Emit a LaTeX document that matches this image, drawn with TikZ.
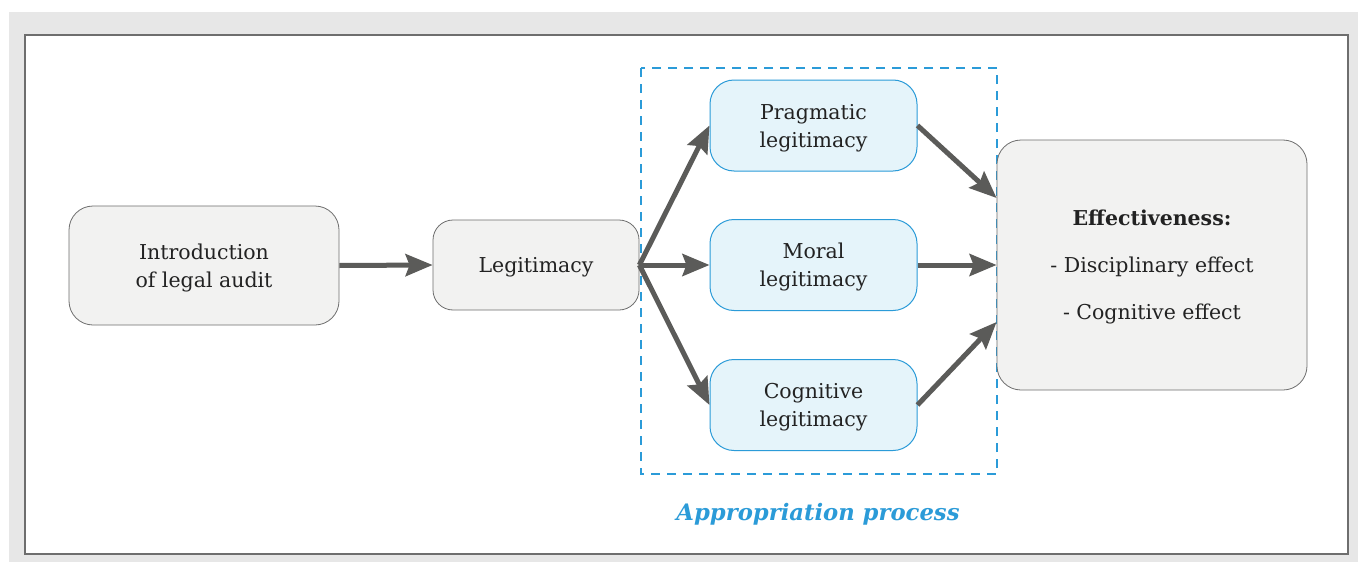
\documentclass[tikz,border=0pt]{standalone}
\usepackage{fontspec}
\setmainfont{DejaVu Serif}
\usetikzlibrary{arrows.meta}
\definecolor{boxgray}{HTML}{F2F2F1}
\definecolor{edgegray}{HTML}{6E6E6E}
\definecolor{arrowgray}{HTML}{5B5B59}
\definecolor{lightblue}{HTML}{E5F4FA}
\definecolor{procblue}{HTML}{2B9BD8}
\definecolor{framegray}{HTML}{E7E7E7}
\definecolor{textdark}{HTML}{222222}
\begin{document}
\begin{tikzpicture}[x=1pt,y=-1pt]
	\tikzstyle{every node}+=[inner sep=0pt, text=textdark, align=center, text depth=0pt, font=\fontsize{20.5}{28}\selectfont]
	\tikzstyle{graybox}=[draw=edgegray, fill=boxgray, rounded corners=24pt, line width=0.8pt]
	\tikzstyle{bluebox}=[draw=procblue, fill=lightblue, rounded corners=24pt, line width=1pt, minimum width=207pt, minimum height=91pt]
	\tikzstyle{flow}=[draw=arrowgray, line width=5pt, -{Stealth[length=27pt,width=22pt,inset=4pt]}]
	\useasboundingbox (0,0) rectangle (1358,562);
	\fill [framegray] (9,12) rectangle (1358,562);
	\draw [edgegray, fill=white, line width=1.5pt] (25,35) rectangle (1348,554);
	\draw [procblue, line width=2pt, dash pattern=on 9pt off 7pt] (641,68) rectangle (997,474);
	\node [graybox, minimum width=270pt, minimum height=119pt] (intro) at (204,265.5) {Introduction\\of legal audit};
	\node [graybox, rounded corners=20pt, minimum width=206pt, minimum height=90pt] (legit) at (536,265) {Legitimacy};
	\node [bluebox] (prag) at (813.5,125.5) {Pragmatic\\legitimacy};
	\node [bluebox] (moral) at (813.5,265) {Moral\\legitimacy};
	\node [bluebox] (cogn) at (813.5,405) {Cognitive\\legitimacy};
	\node [graybox, minimum width=310pt, minimum height=250pt] (effect) at (1152,265) {\textbf{Effectiveness:}\\[19pt]- Disciplinary effect\\[19pt]- Cognitive effect};
	\node [text=procblue, font=\fontsize{22.7}{28}\selectfont\bfseries\itshape] (appr) at (818,512) {Appropriation process};
	\draw [flow] (intro.east) -- (legit.west);
	\draw [flow] (legit.east) -- (prag.west);
	\draw [flow] (legit.east) -- (moral.west);
	\draw [flow] (legit.east) -- (cogn.west);
	\draw [flow] (prag.east) -- ([yshift=67pt]effect.west);
	\draw [flow] (moral.east) -- (effect.west);
	\draw [flow] (cogn.east) -- ([yshift=-57pt]effect.west);
\end{tikzpicture}
\end{document}
